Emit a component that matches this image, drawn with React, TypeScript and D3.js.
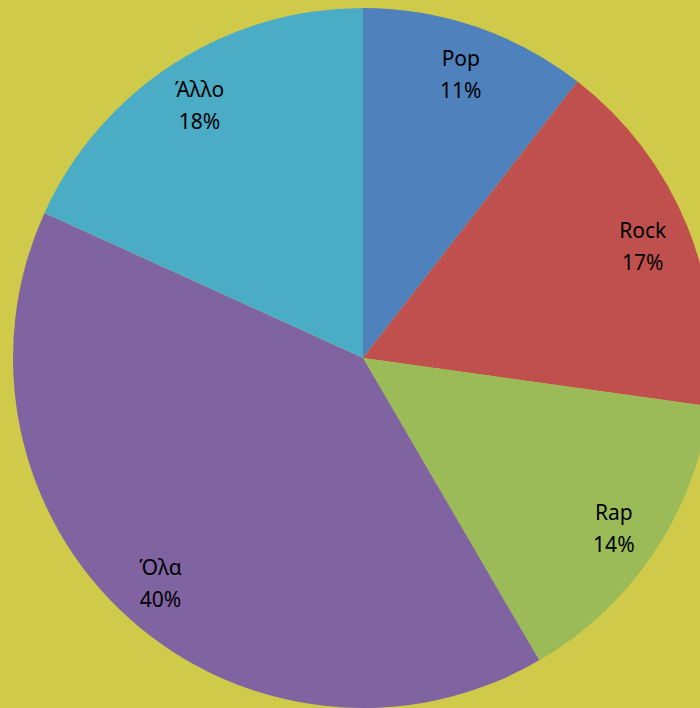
import React, { useEffect, useRef } from 'react';
import * as d3 from 'd3';

// Κατηγορίες και τιμές (εκτίμηση από την εικόνα)
const categories = ['Pop', 'Rock', 'Rap', 'Όλα', 'Άλλο'];
const values = [10.5, 16.7, 14.4, 40.2, 18.2];
const percentLabels = ['11%', '17%', '14%', '40%', '18%'];
const colors = ['#4F81BD', '#C0504D', '#9BBB59', '#8064A2', '#4BACC6'];

const App = () => {
  const svgRef = useRef<SVGSVGElement>(null);

  useEffect(() => {
    if (!svgRef.current) return;
    document.body.style.margin = '0';

    const width = 700;
    const height = 708;
    const cx = 363;
    const cy = 358;
    const radius = 350;
    const labelRadius = 302;

    const svg = d3.select(svgRef.current);
    svg.selectAll('*').remove();
    svg.attr('width', width).attr('height', height);

    svg.append('rect')
      .attr('width', width)
      .attr('height', height)
      .attr('fill', '#CFCA4A');

    const data = categories.map((c, i) => ({ name: c, value: values[i], label: percentLabels[i], color: colors[i] }));

    const pie = d3.pie<any>().sort(null).value(d => d.value);
    const arcs = pie(data);

    const arc = d3.arc<any>().innerRadius(0).outerRadius(radius);
    const labelArc = d3.arc<any>().innerRadius(labelRadius).outerRadius(labelRadius);

    const g = svg.append('g').attr('transform', `translate(${cx},${cy})`);

    g.selectAll('path')
      .data(arcs)
      .enter().append('path')
      .attr('d', arc)
      .attr('fill', d => d.data.color);

    const labels = g.selectAll('.lbl')
      .data(arcs)
      .enter().append('g')
      .attr('class', 'lbl')
      .attr('transform', d => `translate(${labelArc.centroid(d)})`);

    labels.append('text')
      .attr('text-anchor', 'middle')
      .attr('y', -14)
      .attr('dy', '0.35em')
      .attr('font-family', '"Noto Sans", sans-serif')
      .attr('font-size', '21px')
      .attr('fill', '#000')
      .text(d => d.data.name);

    labels.append('text')
      .attr('text-anchor', 'middle')
      .attr('y', 18)
      .attr('dy', '0.35em')
      .attr('font-family', '"Noto Sans", sans-serif')
      .attr('font-size', '21px')
      .attr('fill', '#000')
      .text(d => d.data.label);
  }, []);

  return (
    <svg ref={svgRef} style={{ display: 'block' }}></svg>
  );
};

export default App;
